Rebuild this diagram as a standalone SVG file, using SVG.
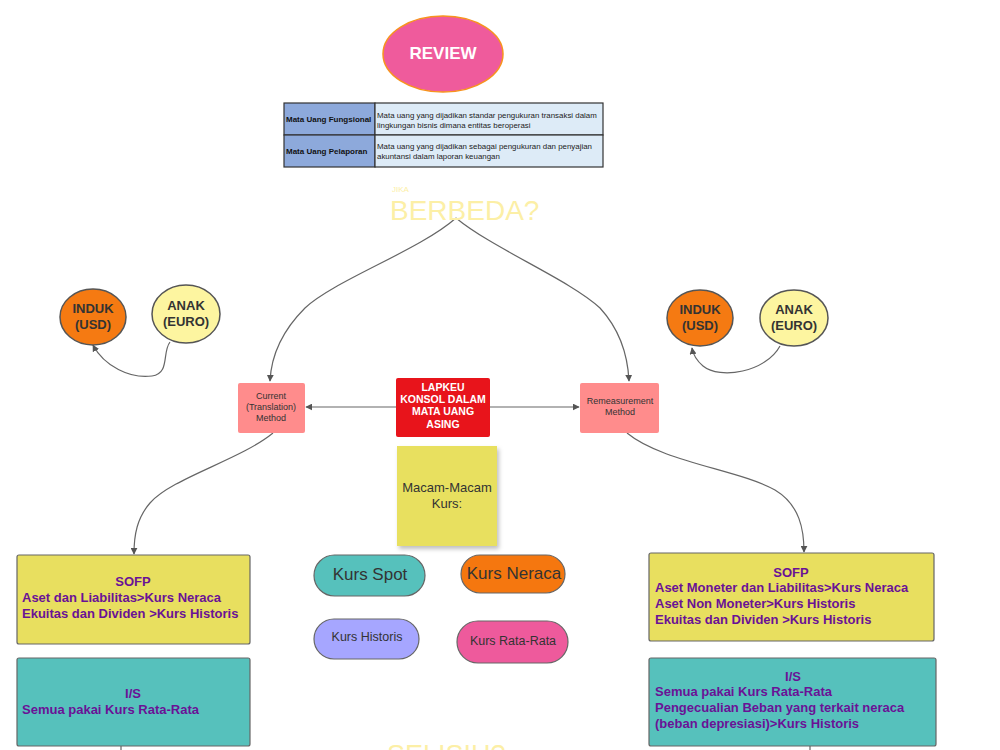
<svg xmlns="http://www.w3.org/2000/svg" width="1000" height="750" viewBox="0 0 1000 750">
<defs>
<marker id="arr" viewBox="0 0 10 10" refX="9" refY="5" markerWidth="7" markerHeight="7" orient="auto-start-reverse" markerUnits="userSpaceOnUse">
<path d="M0,0 L10,5 L0,10 z" fill="#555"/>
</marker>
<filter id="sh" x="-10%" y="-10%" width="130%" height="130%">
<feDropShadow dx="2" dy="3" stdDeviation="2" flood-color="#000" flood-opacity="0.25"/>
</filter>
</defs>
<style>
text{font-family:"Liberation Sans",Arial,sans-serif;}
.conn{fill:none;stroke:#666;stroke-width:1.2;}
.ar{marker-end:url(#arr);}
.circ{stroke:#555;stroke-width:1.5;}
.ct{font-size:13px;font-weight:bold;fill:#333;text-anchor:middle;}
.meth{fill:#FF8C8C;}
.mt{font-size:9px;fill:#333;text-anchor:middle;}
.box{stroke:#666;stroke-width:1.2;}
.pt{font-size:13px;font-weight:bold;fill:#6A1296;}
.pill{stroke:#666;stroke-width:1.2;}
.tbl{stroke:#333;stroke-width:1.2;}
.tl{font-size:8px;font-weight:bold;fill:#111;}
.tr{font-size:7.9px;fill:#222;}
.pale{fill:#FCEFA6;}
.lt{font-size:10.5px;font-weight:bold;fill:#fff;text-anchor:middle;}
</style>

<g id="connectors">
<path class="conn ar" d="M456,218 C420,250 335,280 305,308 C278,335 271,360 270,381"/>
<path class="conn ar" d="M456,218 C492,248 570,280 600,308 C622,332 628,360 629,381"/>
<path class="conn ar" d="M170,342 C162,352 170,374 152,376 C130,379 104,366 93,345"/>
<path class="conn ar" d="M780,346 C766,372 720,380 703,366 C696,360 693,354 692,348"/>
<path class="conn ar" d="M396,407 L306,407"/>
<path class="conn ar" d="M490,407 L579,407"/>
<path class="conn ar" d="M273,433 C240,460 172,478 150,503 C137,518 134,535 134,554"/>
<path class="conn ar" d="M627,433 C662,462 740,470 775,490 C800,505 804,530 804,552"/>
<path class="conn" d="M121,746 L121,750"/>
<path class="conn" d="M810,746 L810,750"/>
</g>

<g id="review">
<ellipse cx="443" cy="54" rx="60" ry="38" fill="#EF5B9C" stroke="#F7931E" stroke-width="1.5"/>
<text x="443" y="59" font-size="17" font-weight="bold" fill="#fff" text-anchor="middle">REVIEW</text>
</g>

<g id="table">
<rect class="tbl" x="284" y="103" width="91" height="32" fill="#8DA9DB"/>
<rect class="tbl" x="375" y="103" width="228" height="32" fill="#DDEBF7"/>
<rect class="tbl" x="284" y="135" width="91" height="32" fill="#8DA9DB"/>
<rect class="tbl" x="375" y="135" width="228" height="32" fill="#DDEBF7"/>
<text class="tl" x="286" y="122">Mata Uang Fungsional</text>
<text class="tl" x="286" y="154">Mata Uang Pelaporan</text>
<text class="tr" x="377" y="118">Mata uang yang dijadikan standar pengukuran transaksi dalam</text>
<text class="tr" x="377" y="128">lingkungan bisnis dimana entitas beroperasi</text>
<text class="tr" x="377" y="149">Mata uang yang dijadikan sebagai pengukuran dan penyajian</text>
<text class="tr" x="377" y="159">akuntansi dalam laporan keuangan</text>
</g>

<g id="berbeda">
<text class="pale" x="392" y="192" font-size="8">JIKA</text>
<text class="pale" x="390" y="220" font-size="28">BERBEDA?</text>
</g>

<g id="induk-left">
<ellipse class="circ" cx="93" cy="317" rx="33" ry="28" fill="#F57A12"/>
<text class="ct" x="93" y="313">INDUK</text>
<text class="ct" x="93" y="329">(USD)</text>
</g>
<g id="anak-left">
<ellipse class="circ" cx="186" cy="314" rx="34" ry="29" fill="#FDF5A0"/>
<text class="ct" x="186" y="310">ANAK</text>
<text class="ct" x="186" y="326">(EURO)</text>
</g>
<g id="induk-right">
<ellipse class="circ" cx="700" cy="318" rx="33" ry="28" fill="#F57A12"/>
<text class="ct" x="700" y="314">INDUK</text>
<text class="ct" x="700" y="330">(USD)</text>
</g>
<g id="anak-right">
<ellipse class="circ" cx="794" cy="318" rx="34" ry="28" fill="#FDF5A0"/>
<text class="ct" x="794" y="314">ANAK</text>
<text class="ct" x="794" y="330">(EURO)</text>
</g>

<g id="current">
<rect class="meth" x="238" y="383" width="67" height="50" rx="2"/>
<text class="mt" x="271" y="399">Current</text>
<text class="mt" x="271" y="410">(Translation)</text>
<text class="mt" x="271" y="421">Method</text>
</g>

<g id="lapkeu">
<rect x="396" y="378" width="94" height="59" rx="2" fill="#E8141B"/>
<text class="lt" x="443" y="391">LAPKEU</text>
<text class="lt" x="443" y="403">KONSOL DALAM</text>
<text class="lt" x="443" y="415">MATA UANG</text>
<text class="lt" x="443" y="428">ASING</text>
</g>

<g id="remeasurement">
<rect class="meth" x="580" y="383" width="79" height="50" rx="2"/>
<text class="mt" x="620" y="404">Remeasurement</text>
<text class="mt" x="620" y="415">Method</text>
</g>

<g id="macam">
<rect x="397" y="446" width="100" height="100" fill="#E8E05E" filter="url(#sh)"/>
<text x="447" y="492" font-size="13" fill="#333" text-anchor="middle">Macam-Macam</text>
<text x="447" y="508" font-size="13" fill="#333" text-anchor="middle">Kurs:</text>
</g>

<g id="kurs-spot">
<rect class="pill" x="314" y="555" width="111" height="41" rx="20.5" fill="#56C1BC"/>
<text x="370" y="580" font-size="17" fill="#333" text-anchor="middle">Kurs Spot</text>
</g>
<g id="kurs-neraca">
<rect class="pill" x="461" y="555" width="104" height="38" rx="19" fill="#F5770F"/>
<text x="514" y="579" font-size="17" fill="#333" text-anchor="middle">Kurs Neraca</text>
</g>
<g id="kurs-historis">
<rect class="pill" x="314" y="619" width="105" height="40" rx="20" fill="#A6A6FF"/>
<text x="367" y="641" font-size="12.5" fill="#333" text-anchor="middle">Kurs Historis</text>
</g>
<g id="kurs-rata">
<rect class="pill" x="457" y="621" width="111" height="42" rx="21" fill="#EE5A9C"/>
<text x="513" y="645" font-size="12.5" fill="#333" text-anchor="middle">Kurs Rata-Rata</text>
</g>

<g id="sofp-left">
<rect class="box" x="17" y="555" width="233" height="89" rx="2" fill="#E8DF5F"/>
<text class="pt" x="133" y="586" text-anchor="middle">SOFP</text>
<text class="pt" x="22" y="602">Aset dan Liabilitas&gt;Kurs Neraca</text>
<text class="pt" x="22" y="618">Ekuitas dan Dividen &gt;Kurs Historis</text>
</g>
<g id="is-left">
<rect class="box" x="17" y="658" width="233" height="88" rx="2" fill="#56C1BC"/>
<text class="pt" x="133" y="698" text-anchor="middle">I/S</text>
<text class="pt" x="22" y="714">Semua pakai Kurs Rata-Rata</text>
</g>
<g id="sofp-right">
<rect class="box" x="649" y="553" width="285" height="88" rx="2" fill="#E8DF5F"/>
<text class="pt" x="791" y="577" text-anchor="middle">SOFP</text>
<text class="pt" x="655" y="592">Aset Moneter dan Liabilitas&gt;Kurs Neraca</text>
<text class="pt" x="655" y="608">Aset Non Moneter&gt;Kurs Historis</text>
<text class="pt" x="655" y="624">Ekuitas dan Dividen &gt;Kurs Historis</text>
</g>
<g id="is-right">
<rect class="box" x="649" y="658" width="287" height="88" rx="2" fill="#56C1BC"/>
<text class="pt" x="793" y="681" text-anchor="middle">I/S</text>
<text class="pt" x="655" y="696">Semua pakai Kurs Rata-Rata</text>
<text class="pt" x="655" y="712">Pengecualian Beban yang terkait neraca</text>
<text class="pt" x="655" y="728">(beban depresiasi)&gt;Kurs Historis</text>
</g>

<g id="selisih">
<text class="pale" x="387" y="764" font-size="27">SELISIH?</text>
</g>
</svg>
